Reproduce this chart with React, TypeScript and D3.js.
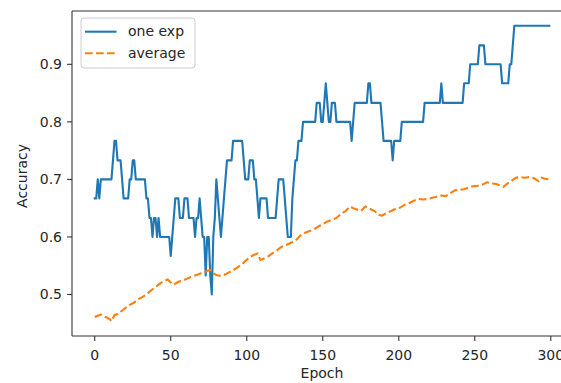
import React from "react";
import * as d3 from "d3";

// accuracy of a single run, one value per epoch (0..299)
const oneExp = [
  0.667, 0.667, 0.7, 0.667, 0.7, 0.7, 0.7, 0.7, 0.7, 0.7, 0.7, 0.7, 0.733, 0.767, 0.767, 0.733, 0.733, 0.733, 0.7, 0.667,
  0.667, 0.667, 0.667, 0.7, 0.7, 0.733, 0.733, 0.7, 0.7, 0.7, 0.7, 0.7, 0.7, 0.7, 0.667, 0.667, 0.633, 0.633, 0.6, 0.633,
  0.633, 0.6, 0.633, 0.6, 0.6, 0.6, 0.6, 0.6, 0.6, 0.6, 0.567, 0.6, 0.633, 0.667, 0.667, 0.667, 0.633, 0.633, 0.633, 0.667,
  0.667, 0.667, 0.633, 0.633, 0.633, 0.633, 0.6, 0.633, 0.633, 0.667, 0.633, 0.6, 0.6, 0.533, 0.6, 0.6, 0.533, 0.5, 0.6, 0.633,
  0.7, 0.667, 0.633, 0.6, 0.633, 0.667, 0.7, 0.733, 0.733, 0.733, 0.733, 0.767, 0.767, 0.767, 0.767, 0.767, 0.767, 0.767, 0.733, 0.7,
  0.7, 0.7, 0.733, 0.733, 0.733, 0.7, 0.7, 0.667, 0.633, 0.667, 0.667, 0.667, 0.667, 0.667, 0.633, 0.633, 0.633, 0.633, 0.633, 0.633,
  0.667, 0.7, 0.7, 0.7, 0.7, 0.667, 0.633, 0.6, 0.6, 0.6, 0.667, 0.7, 0.733, 0.733, 0.767, 0.767, 0.767, 0.8, 0.8, 0.8,
  0.8, 0.8, 0.8, 0.8, 0.8, 0.8, 0.833, 0.833, 0.833, 0.8, 0.8, 0.833, 0.867, 0.833, 0.8, 0.8, 0.833, 0.833, 0.833, 0.8,
  0.8, 0.8, 0.8, 0.8, 0.8, 0.8, 0.8, 0.8, 0.8, 0.767, 0.8, 0.833, 0.833, 0.833, 0.833, 0.833, 0.833, 0.833, 0.833, 0.833,
  0.867, 0.867, 0.833, 0.833, 0.833, 0.833, 0.833, 0.833, 0.833, 0.8, 0.767, 0.767, 0.767, 0.767, 0.767, 0.767, 0.733, 0.767, 0.767, 0.767,
  0.767, 0.767, 0.8, 0.8, 0.8, 0.8, 0.8, 0.8, 0.8, 0.8, 0.8, 0.8, 0.8, 0.8, 0.8, 0.8, 0.8, 0.833, 0.833, 0.833,
  0.833, 0.833, 0.833, 0.833, 0.833, 0.833, 0.833, 0.833, 0.867, 0.833, 0.833, 0.833, 0.833, 0.833, 0.833, 0.833, 0.833, 0.833, 0.833, 0.833,
  0.833, 0.833, 0.833, 0.867, 0.867, 0.867, 0.867, 0.9, 0.9, 0.9, 0.9, 0.9, 0.9, 0.933, 0.933, 0.933, 0.933, 0.9, 0.9, 0.9,
  0.9, 0.9, 0.9, 0.9, 0.9, 0.9, 0.9, 0.9, 0.867, 0.867, 0.867, 0.867, 0.867, 0.9, 0.9, 0.933, 0.967, 0.967, 0.967, 0.967,
  0.967, 0.967, 0.967, 0.967, 0.967, 0.967, 0.967, 0.967, 0.967, 0.967, 0.967, 0.967, 0.967, 0.967, 0.967, 0.967, 0.967, 0.967, 0.967, 0.967,
];

// running average, read at a coarser step
const avgEpochs = [
  0, 2, 4, 6, 8, 10, 11, 13, 15, 17, 20, 23, 26, 28, 31, 34, 37, 39, 42, 45, 48, 50, 52, 55, 58, 61, 64, 67, 70, 73,
  76, 78, 80, 83, 86, 88, 91, 94, 97, 99, 102, 105, 107, 109, 111, 114, 117, 120, 123, 126, 129, 132, 135, 138, 141,
  144, 147, 150, 153, 156, 159, 162, 165, 168, 170, 172, 175, 178, 181, 184, 187, 189, 192, 195, 198, 201, 204, 207,
  210, 213, 216, 219, 222, 225, 228, 231, 234, 237, 240, 243, 246, 249, 252, 255, 258, 261, 264, 267, 269, 271, 274,
  277, 280, 283, 286, 289, 292, 294, 296, 299,
];
const avgValues = [
  0.461, 0.463, 0.465, 0.462, 0.46, 0.457, 0.4535, 0.464, 0.466, 0.47, 0.476, 0.482, 0.486, 0.491, 0.495, 0.5, 0.507,
  0.511, 0.517, 0.523, 0.526, 0.521, 0.517, 0.522, 0.524, 0.528, 0.531, 0.534, 0.537, 0.54, 0.543, 0.537, 0.534, 0.532,
  0.535, 0.538, 0.542, 0.547, 0.553, 0.558, 0.565, 0.569, 0.571, 0.56, 0.562, 0.566, 0.572, 0.577, 0.583, 0.586, 0.59,
  0.593, 0.602, 0.607, 0.61, 0.613, 0.618, 0.622, 0.627, 0.63, 0.633, 0.64, 0.645, 0.653, 0.65, 0.648, 0.645, 0.653,
  0.649, 0.645, 0.638, 0.637, 0.642, 0.645, 0.649, 0.651, 0.656, 0.659, 0.663, 0.666, 0.665, 0.666, 0.668, 0.67, 0.672,
  0.671, 0.676, 0.681, 0.682, 0.683, 0.686, 0.688, 0.689, 0.691, 0.695, 0.693, 0.692, 0.689, 0.687, 0.692, 0.697, 0.703,
  0.704, 0.703, 0.704, 0.702, 0.697, 0.703, 0.701, 0.7,
];

const xTicks = [0, 50, 100, 150, 200, 250, 300];
const yTicks = [0.5, 0.6, 0.7, 0.8, 0.9];
const seriesNames = ["one exp", "average"];

const W = 561;
const H = 383;
const FONT = "DejaVu Sans, sans-serif";
const TXT = "#262626";

export default function App() {
  const left = 72;
  const right = 572; // axes run past the right edge of the picture
  const top = 11;
  const bottom = 336;

  const oneExpPts: [number, number][] = oneExp.map((v, i) => [i, v]);
  const avgPts: [number, number][] = avgEpochs.map((e, i) => [e, avgValues[i]]);

  // matplotlib style 5% margins
  const xExt = d3.extent(oneExpPts.concat(avgPts), (d) => d[0]) as [number, number];
  const yExt = d3.extent(oneExpPts.concat(avgPts), (d) => d[1]) as [number, number];
  const xPad = (xExt[1] - xExt[0]) * 0.05;
  const yPad = (yExt[1] - yExt[0]) * 0.05;

  const x = d3.scaleLinear().domain([xExt[0] - xPad, xExt[1] + xPad]).range([left, right]);
  const y = d3.scaleLinear().domain([yExt[0] - yPad, yExt[1] + yPad]).range([bottom, top]);

  const line = d3
    .line<[number, number]>()
    .x((d) => x(d[0]))
    .y((d) => y(d[1]));

  return (
    <svg
      width={W}
      height={H}
      style={{ position: "absolute", left: 0, top: 0, background: "#fff" }}
      fontFamily={FONT}
    >
      <rect x={0} y={0} width={W} height={H} fill="#fff" />

      {/* lines */}
      <path d={line(oneExpPts) || ""} fill="none" stroke="#1f77b4" strokeWidth={2.1} strokeLinejoin="round" strokeLinecap="square" />
      <path d={line(avgPts) || ""} fill="none" stroke="#ff7f0e" strokeWidth={2.1} strokeDasharray="7.7,3.3" />

      {/* spines */}
      <line x1={left} x2={left} y1={top} y2={bottom} stroke="#333" strokeWidth={1.1} />
      <line x1={left} x2={right} y1={bottom} y2={bottom} stroke="#333" strokeWidth={1.1} />
      <line x1={left} x2={right} y1={top} y2={top} stroke="#333" strokeWidth={1.1} />

      {/* x ticks */}
      {xTicks.map((t) => (
        <g key={"x" + t} transform={`translate(${x(t)},${bottom})`}>
          <line y2={4.9} stroke="#333" strokeWidth={1.1} />
          <text y={24} textAnchor="middle" fontSize={14} fill={TXT}>
            {t}
          </text>
        </g>
      ))}
      <text x={(left + right) / 2} y={378} textAnchor="middle" fontSize={14} fill={TXT}>
        Epoch
      </text>

      {/* y ticks */}
      {yTicks.map((t) => (
        <g key={"y" + t} transform={`translate(${left},${y(t)})`}>
          <line x2={-4.9} stroke="#333" strokeWidth={1.1} />
          <text x={-10} dy="0.35em" textAnchor="end" fontSize={14} fill={TXT}>
            {t.toFixed(1)}
          </text>
        </g>
      ))}
      <text transform={`translate(27,176) rotate(-90)`} textAnchor="middle" fontSize={14} fill={TXT}>
        Accuracy
      </text>

      {/* legend */}
      <rect x={81} y={18} width={114} height={50} rx={3} fill="#fff" fillOpacity={0.8} stroke="#ccc" strokeWidth={1} />
      {seriesNames.map((name, i) => (
        <g key={name} transform={`translate(85,${31.7 + i * 21.6})`}>
          <line
            x1={0}
            x2={31.5}
            stroke={i === 0 ? "#1f77b4" : "#ff7f0e"}
            strokeWidth={2.1}
            strokeDasharray={i === 0 ? undefined : "7.7,3.3"}
          />
          <text x={43} dy="0.32em" fontSize={14} fill={TXT}>
            {name}
          </text>
        </g>
      ))}
    </svg>
  );
}
